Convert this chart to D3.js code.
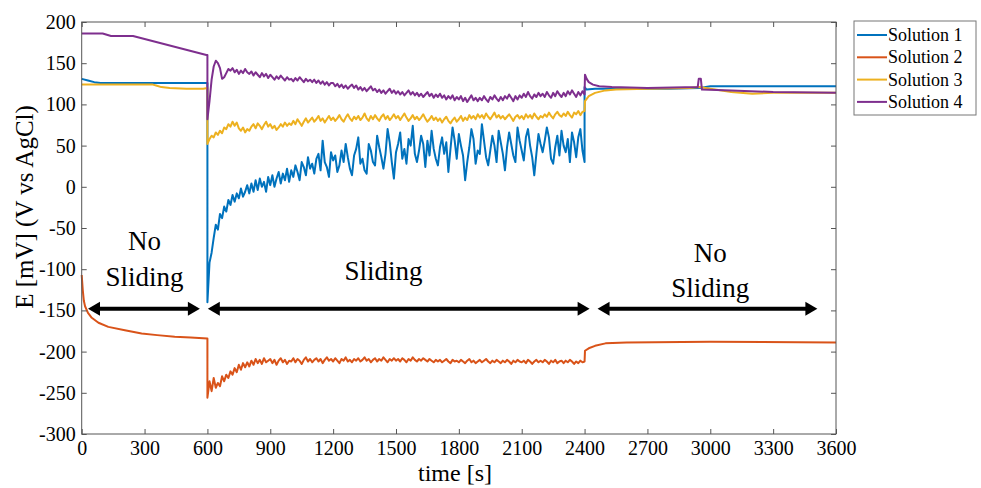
<!DOCTYPE html>
<html>
<head>
<meta charset="utf-8">
<script src="https://cdn.jsdelivr.net/npm/d3@7"></script>
<style>
  html, body { margin: 0; padding: 0; background: #fff; }
  svg { display: block; }
  svg text { font-family: "Liberation Serif", "Times New Roman", serif; fill: #000; }
</style>
</head>
<body>
<svg id="chart" width="981" height="488"></svg>
<script>
// Open-circuit potential recorded before, during and after sliding
const seriesNames = ["Solution 1", "Solution 2", "Solution 3", "Solution 4"];
const seriesColors = ["#0072BD", "#D95319", "#EDB120", "#7E2F8E"];

const xTicks = [0, 300, 600, 900, 1200, 1500, 1800, 2100, 2400, 2700, 3000, 3300, 3600];
const yTicks = [-300, -250, -200, -150, -100, -50, 0, 50, 100, 150, 200];

// Sliding period: one sample every 10 s from 600 s to 2400 s
const slideStart = 600, slideEnd = 2400, slideStep = 10;

// Solution 1 [time, E]
const sol1Before = [[0, 131], [30, 129], [60, 127], [90, 126], [120, 126], [600, 126]];
const sol1Sliding = [
  -140, -92, -80, -62, -46, -52, -33, -38, -24, -30,
  -16, -22, -10, -18, -8, -14, -2, -12, -6, 2,
  -8, 4, -6, 8, -4, 10, 0, 6, -6, 12,
  2, 14, 0, 10, 18, 4, 16, 8, 22, 6,
  20, 12, 26, 18, 8, 30, 24, 14, 36, 22,
  28, 16, 34, 40, 20, 56, 30, 24, 12, 42,
  32, 38, 18, 26, 44, 30, 52, 36, 22, 14,
  38, 46, 60, 28, 34, 20, 16, 52, 44, 30,
  26, 62, 48, 36, 22, 40, 70, 54, 30, 10,
  42, 52, 66, 34, 46, 28, 58, 50, 74, 40,
  30, 44, 62, 52, 24, 56, 38, 68, 46, 34,
  26, 48, 60, 40, 54, 18, 46, 72, 56, 34,
  64, 50, 38, 8, 30, 48, 70, 58, 28, 44,
  40, 76, 56, 36, 26, 44, 62, 50, 30, 68,
  54, 40, 20, 48, 66, 52, 38, 30, 72, 56,
  44, 32, 60, 70, 50, 36, 14, 40, 64, 52,
  42, 56, 72, 60, 34, 28, 48, 62, 38, 68,
  50, 42, 58, 30, 66, 54, 36, 60, 70, 44,
  30
];
const sol1After = [[2400, 121], [2410, 118], [2450, 119], [2600, 119], [2800, 119], [2950, 120], [3000, 122], [3600, 122]];

// Solution 2
const sol2Before = [[0, -107], [5, -125], [10, -138], [16, -145], [30, -153], [48, -159], [80, -165],
  [127, -170], [206, -174], [286, -178], [360, -180], [444, -182], [520, -183], [600, -184]];
const sol2Sliding = [
  -256, -236, -248, -232, -244, -238, -242, -230, -236, -228,
  -232, -224, -228, -220, -225, -216, -222, -214, -219, -213,
  -218, -211, -216, -209, -214, -210, -215, -208, -213, -211,
  -209, -214, -210, -216, -211, -208, -213, -210, -215, -211,
  -212, -208, -213, -209, -211, -215, -210, -207, -212, -209,
  -213, -210, -208, -212, -209, -214, -210, -207, -211, -209,
  -212, -208, -211, -214, -209, -211, -207, -212, -210, -213,
  -209, -211, -208, -212, -210, -207, -211, -209, -213, -210,
  -208, -212, -209, -211, -207, -210, -213, -209, -211, -208,
  -211, -209, -212, -208, -210, -213, -209, -211, -207, -210,
  -212, -209, -211, -208, -210, -212, -209, -211, -213, -210,
  -212, -210, -213, -211, -209, -212, -214, -210, -212, -211,
  -213, -210, -212, -214, -211, -209, -213, -211, -214, -212,
  -210, -213, -211, -209, -212, -214, -211, -213, -210, -212,
  -214, -211, -213, -210, -212, -215, -211, -213, -210, -212,
  -213, -211, -214, -210, -212, -215, -212, -210, -213, -211,
  -213, -210, -212, -215, -211, -213, -210, -214, -212, -211,
  -214, -211, -213, -210, -212, -215, -212, -214, -211, -213,
  -212
];
const sol2After = [[2400, -212], [2402, -199], [2420, -196], [2450, -193], [2500, -190], [2600, -189], [3000, -188], [3600, -189]];

// Solution 3
const sol3Before = [[0, 124], [100, 124], [340, 124], [355, 123], [380, 121], [420, 120], [500, 119], [580, 119], [600, 120]];
const sol3Sliding = [
  52, 58, 62, 60, 66, 63, 68, 65, 72, 70,
  76, 73, 79, 74, 78, 71, 68, 72, 66, 70,
  68, 73, 76, 71, 77, 74, 70, 75, 79, 73,
  76, 71, 74, 69, 72, 76, 73, 78, 74, 77,
  75, 80, 76, 82, 78, 74, 79, 83, 78, 81,
  84, 79, 82, 86, 80, 83, 78, 82, 86, 81,
  84, 80, 83, 87, 82, 79, 84, 88, 83, 80,
  85, 82, 86, 81, 84, 89, 83, 80, 86, 82,
  87, 83, 80, 85, 88, 82, 86, 81, 84, 88,
  83, 86, 81, 85, 89, 84, 80, 83, 87, 82,
  85, 81, 84, 88, 83, 79, 82, 86, 81, 84,
  80, 83, 78, 82, 85, 80, 77, 81, 84, 79,
  82, 86, 80, 84, 81, 87, 83, 86, 82, 88,
  84, 87, 83, 89, 85, 82, 86, 90, 84, 87,
  83, 86, 82, 85, 88, 84, 80, 85, 87, 83,
  86, 82, 88, 84, 87, 83, 89, 85, 82, 86,
  84, 88, 85, 90, 86, 83, 88, 91, 87, 85,
  89, 86, 91, 87, 84, 90, 88, 92, 87, 91,
  92
];
const sol3After = [[2400, 92], [2402, 104], [2420, 110], [2450, 114], [2500, 117], [2550, 118], [2700, 119],
  [2900, 120], [2950, 121], [3000, 119], [3100, 115], [3200, 113], [3300, 114], [3450, 114], [3600, 114]];

// Solution 4
const sol4Before = [[0, 186], [100, 186], [140, 183], [245, 183], [595, 160], [600, 160]];
const sol4Sliding = [
  82, 104, 130, 146, 153, 150, 144, 131, 133, 138,
  143, 141, 144, 139, 142, 137, 141, 138, 143, 139,
  137, 140, 135, 139, 136, 133, 138, 134, 137, 132,
  136, 133, 130, 134, 131, 135, 132, 129, 133, 130,
  131, 128, 132, 129, 133, 130, 127, 131, 128, 130,
  127, 130, 126, 129, 125, 128, 124, 127, 123, 126,
  126, 122, 125, 121, 124, 120, 123, 119, 122, 124,
  120, 123, 118, 121, 117, 120, 116, 119, 122, 117,
  119, 115, 118, 114, 117, 113, 116, 119, 114, 117,
  113, 116, 112, 115, 111, 114, 117, 112, 115, 111,
  114, 110, 113, 109, 112, 115, 110, 113, 108, 112,
  109, 113, 108, 111, 106, 110, 107, 111, 105, 109,
  106, 110, 104, 108, 103, 107, 111, 105, 108, 104,
  108, 105, 110, 106, 103, 109, 106, 111, 107, 104,
  109, 105, 110, 107, 112, 108, 104, 110, 106, 111,
  108, 113, 109, 115, 110, 107, 112, 109, 114, 110,
  113, 109, 115, 111, 108, 114, 110, 116, 112, 109,
  114, 110, 116, 112, 117, 113, 109, 115, 111, 116,
  112
];
const sol4After = [[2400, 112], [2402, 136], [2410, 131], [2420, 127], [2440, 124], [2470, 122], [2530, 121],
  [2700, 120], [2940, 121], [2945, 131], [2955, 131], [2960, 118], [3100, 117], [3300, 115], [3600, 114]];

// Phase annotations: label position and double-arrow extent (in seconds)
const phaseLabels = [["No", "Sliding"], ["Sliding"], ["No", "Sliding"]];
const phaseCenters = [300, 1440, 3000];
const phaseFrom = [30, 602, 2462];
const phaseTo = [564, 2424, 3511];

const slideTimes = d3.range(slideStart, slideEnd + 1, slideStep);
function assemble(before, sliding, after) {
  return before.concat(sliding.map((v, i) => [slideTimes[i], v]), after);
}
const allSeries = [
  assemble(sol1Before, sol1Sliding, sol1After),
  assemble(sol2Before, sol2Sliding, sol2After),
  assemble(sol3Before, sol3Sliding, sol3After),
  assemble(sol4Before, sol4Sliding, sol4After)
];

const svg = d3.select("#chart");
const m = { left: 81.7, right: 836, top: 22, bottom: 434 };
const x = d3.scaleLinear().domain([0, 3600]).range([m.left, m.right]);
const y = d3.scaleLinear().domain([-300, 200]).range([m.bottom, m.top]);
const axisColor = "#555";
const serif = "Liberation Serif";

// Data lines
const line = d3.line().x(d => x(d[0])).y(d => y(d[1]));
const plot = svg.append("g");
allSeries.forEach((data, i) => {
  plot.append("path")
    .datum(data)
    .attr("fill", "none")
    .attr("stroke", seriesColors[i])
    .attr("stroke-width", 2)
    .attr("stroke-linejoin", "round")
    .attr("d", line);
});

// Axes (ticks pointing inward on all four sides)
function styleAxis(g) {
  g.attr("font-family", serif).attr("font-size", 20);
  g.select(".domain").remove();
  g.selectAll(".tick line").attr("stroke", axisColor);
  g.selectAll(".tick text").attr("fill", "#000");
}
svg.append("g").attr("transform", `translate(0,${m.bottom})`)
  .call(d3.axisBottom(x).tickValues(xTicks).tickSizeInner(-5).tickSizeOuter(0).tickPadding(7).tickFormat(d => String(d)))
  .call(styleAxis);
svg.append("g").attr("transform", `translate(0,${m.top})`)
  .call(d3.axisTop(x).tickValues(xTicks).tickSizeInner(-5).tickSizeOuter(0).tickFormat(""))
  .call(styleAxis);
svg.append("g").attr("transform", `translate(${m.left},0)`)
  .call(d3.axisLeft(y).tickValues(yTicks).tickSizeInner(-5).tickSizeOuter(0).tickPadding(6).tickFormat(d => String(d)))
  .call(styleAxis);
svg.append("g").attr("transform", `translate(${m.right},0)`)
  .call(d3.axisRight(y).tickValues(yTicks).tickSizeInner(-5).tickSizeOuter(0).tickFormat(""))
  .call(styleAxis);

svg.append("rect")
  .attr("x", m.left).attr("y", m.top)
  .attr("width", m.right - m.left).attr("height", m.bottom - m.top)
  .attr("fill", "none").attr("stroke", axisColor).attr("stroke-width", 1);

// Axis titles
svg.append("text")
  .attr("x", 455).attr("y", 481)
  .attr("text-anchor", "middle")
  .attr("font-size", 24)
  .text("time [s]");
svg.append("text")
  .attr("transform", "translate(33,207) rotate(-90)")
  .attr("text-anchor", "middle")
  .attr("font-size", 25)
  .text("E [mV] (V vs AgCl)");

// Phase arrows and labels
const arrowY = y(-148);
const headLen = 12, headHalf = 7;
const annot = svg.append("g");
phaseFrom.forEach((t0, i) => {
  const x0 = x(t0), x1 = x(phaseTo[i]);
  annot.append("line")
    .attr("x1", x0 + headLen - 1).attr("x2", x1 - headLen + 1)
    .attr("y1", arrowY).attr("y2", arrowY)
    .attr("stroke", "#000").attr("stroke-width", 4);
  annot.append("path")
    .attr("d", `M${x0},${arrowY} L${x0 + headLen},${arrowY - headHalf} L${x0 + headLen},${arrowY + headHalf} Z`)
    .attr("fill", "#000");
  annot.append("path")
    .attr("d", `M${x1},${arrowY} L${x1 - headLen},${arrowY - headHalf} L${x1 - headLen},${arrowY + headHalf} Z`)
    .attr("fill", "#000");
});
const labelBase = [[250, 286], [280], [262, 297]];
phaseLabels.forEach((lines, i) => {
  lines.forEach((txt, j) => {
    annot.append("text")
      .attr("x", x(phaseCenters[i])).attr("y", labelBase[i][j])
      .attr("text-anchor", "middle")
      .attr("font-size", 27)
      .text(txt);
  });
});

// Legend
const lg = svg.append("g").attr("transform", "translate(854,21)");
lg.append("rect").attr("width", 122).attr("height", 94)
  .attr("fill", "#fff").attr("stroke", "#777").attr("stroke-width", 1);
seriesNames.forEach((name, i) => {
  const yy = 14 + i * 22.3;
  lg.append("line").attr("x1", 3).attr("x2", 33).attr("y1", yy).attr("y2", yy)
    .attr("stroke", seriesColors[i]).attr("stroke-width", 2);
  lg.append("text").attr("x", 34).attr("y", yy + 6)
    .attr("font-size", 18).text(name);
});
</script>
</body>
</html>
